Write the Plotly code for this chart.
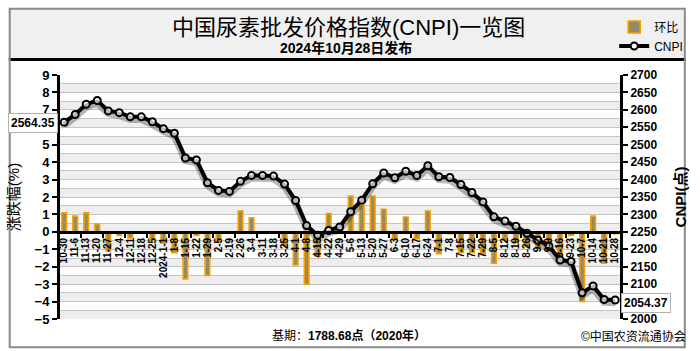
import plotly.graph_objects as go

dates = ["10-30","11-6","11-13","11-20","11-27","12-4","12-11","12-18","12-25","2024-1-1",
         "1-8","1-15","1-22","1-29","2-5","2-19","2-26","3-4","3-11","3-18","3-25",
         "4-1","4-8","4-15","4-22","4-29","5-6","5-13","5-20","5-27","6-3","6-10",
         "6-17","6-24","7-1","7-8","7-15","7-22","7-29","8-5","8-12","8-19","8-26",
         "9-2","9-9","9-16","9-23","10-7","10-14","10-21","10-28"]

cnpi = [2564.35,2587,2616,2627,2597,2592,2580,2580,2566,2546,
        2533,2462,2456,2391,2369,2366,2395,2412,2412,2410,2387,
        2340,2268,2240,2254,2264,2308,2341,2388,2419,2405,2424,
        2412,2440,2408,2406,2386,2363,2336,2293,2281,2266,2246,
        2226,2209,2169,2165,2075,2095,2056,2054.37]

hb = [1.1,0.9,1.1,0.45,-1.1,-0.2,-0.35,0.0,-0.45,-0.65,
      -1.2,-2.7,-0.2,-2.5,-0.6,-0.05,1.2,0.8,0.0,-0.05,-0.8,
      -1.9,-3.0,-1.4,1.05,0.4,2.05,1.45,2.05,1.3,-0.4,0.85,
      -0.4,1.2,-1.25,-0.1,-1.2,-1.2,-1.3,-1.8,-0.5,-0.65,-0.85,
      -0.9,-0.8,-1.8,-0.2,-4.0,0.9,-1.8,-0.1]

left_ticks = list(range(-5, 10))
right_ticks = list(range(2000, 2701, 50))

FONT = "Liberation Sans, Noto Sans CJK SC, sans-serif"
L, R, T, B = 53, 68, 69, 32
W, H = 700, 351
pw, ph = W - L - R, H - T - B

def px(x):
    return (x - L) / pw

def py(y):
    return (H - B - y) / ph

idx = list(range(len(dates)))

fig = go.Figure()

fig.add_trace(go.Scatter(x=idx, y=cnpi, xaxis="x2", yaxis="y3", mode="lines",
                         line=dict(color="rgba(0,0,0,0.28)", width=7),
                         showlegend=False, hoverinfo="skip"))

fig.add_trace(go.Bar(x=dates, y=hb, name="环比", yaxis="y",
                     marker=dict(color="#978a60", line=dict(color="#f5a000", width=1.6)),
                     width=0.42))

fig.add_trace(go.Scatter(x=dates, y=cnpi, name="CNPI", yaxis="y2", mode="lines+markers",
                         line=dict(color="black", width=4),
                         marker=dict(size=7, color="white", line=dict(color="black", width=2))))

shapes = []
shapes.append(dict(type="rect", xref="paper", yref="paper", x0=px(0), x1=px(W), y0=py(52), y1=py(0),
                   fillcolor="#f0f0f0", line=dict(width=0), layer="below"))
shapes.append(dict(type="line", xref="paper", yref="paper", x0=px(0), x1=px(W), y0=py(53), y1=py(53),
                   line=dict(color="black", width=3)))
shapes.append(dict(type="rect", xref="paper", yref="paper", x0=px(1), x1=px(W - 1), y0=py(H - 3), y1=py(1),
                   fillcolor="rgba(0,0,0,0)", line=dict(color="#8a8a8a", width=2)))
k = -5.0
while k < 9:
    shapes.append(dict(type="rect", xref="paper", yref="y", x0=0, x1=1, y0=k, y1=k + 0.5,
                       fillcolor="#eeeeee", line=dict(width=0), layer="below"))
    k += 1.0

fig.update_layout(
    width=W, height=H,
    margin=dict(l=L, r=R, t=T, b=B),
    paper_bgcolor="white", plot_bgcolor="white",
    font=dict(family=FONT, color="black"),
    showlegend=True,
    legend=dict(x=px(626), y=py(5), xanchor="left", yanchor="top",
                bgcolor="rgba(0,0,0,0)", font=dict(size=12, family=FONT),
                itemwidth=30, tracegroupgap=0),
    bargap=0.5,
    xaxis=dict(type="category", range=[-0.38, 50.44], anchor="free", position=5 / 14,
               showline=True, linecolor="black", linewidth=3, ticks="",
               tickmode="array", tickvals=dates, ticktext=dates,
               tickangle=-90, tickfont=dict(size=10, family=FONT, weight="bold"),
               showgrid=False, zeroline=False),
    xaxis2=dict(range=[-0.38, 50.44], overlaying="x", anchor="free", position=5 / 14,
                showline=False, showticklabels=False, tickmode="array",
                tickvals=[i + 0.5 for i in range(1, 50, 2)], ticks="outside",
                ticklen=5, tickwidth=2, tickcolor="black", showgrid=False, zeroline=False),
    yaxis=dict(range=[-5, 9], tickvals=left_ticks, showline=True, linecolor="black", linewidth=3,
               ticks="outside", ticklen=5, tickwidth=2, tickcolor="black",
               tickfont=dict(size=13, weight="bold"),
               showgrid=True, gridcolor="#c4c4c4", gridwidth=1,
               minor=dict(dtick=0.5, showgrid=True, gridcolor="#c4c4c4", gridwidth=1),
               zeroline=False,
               title=dict(text="涨跌幅(%)", font=dict(size=15), standoff=12)),
    yaxis2=dict(range=[2000, 2700], tickvals=right_ticks, overlaying="y", side="right",
                showline=True, linecolor="black", linewidth=3,
                ticks="outside", ticklen=5, tickwidth=2, tickcolor="black",
                tickfont=dict(size=12, weight="bold"), showgrid=False, zeroline=False,
                title=dict(text="CNPI(点)", font=dict(size=15, weight="bold"), standoff=20)),
    yaxis3=dict(range=[2008, 2708], overlaying="y", visible=False),
    shapes=shapes,
)

def txt(text, x, y, size, **kw):
    d = dict(text=text, xref="paper", yref="paper", x=px(x), y=py(y), showarrow=False,
             xanchor="center", yanchor="middle", font=dict(size=size, family=FONT))
    d.update(kw)
    return d

ann = []
ann.append(txt("中国尿素批发价格指数(CNPI)一览图", 351, 20, 22))
ann.append(txt("<b>2024年10月28日发布</b>", 349, 41, 14))
ann.append(txt("基期：<b>1788.68点（2020年）</b>", 352, 336, 12))
ann.append(txt("©中国农资流通协会", 646, 337, 12))
ann.append(dict(text="<b>%.2f</b>" % cnpi[0], x=dates[0], y=cnpi[0], xref="x", yref="y2",
                xshift=-31, yshift=-1, showarrow=False, bgcolor="white", bordercolor="#b0b0b0",
                borderwidth=1, borderpad=2, font=dict(size=12, family=FONT)))
ann.append(dict(text="<b>%.2f</b>" % cnpi[-1], x=dates[-1], y=cnpi[-1], xref="x", yref="y2",
                xshift=31, yshift=-3, showarrow=False, bgcolor="white", bordercolor="#b0b0b0",
                borderwidth=1, borderpad=2, font=dict(size=12, family=FONT)))
fig.update_layout(annotations=ann)

fig.write_html("out.html")
